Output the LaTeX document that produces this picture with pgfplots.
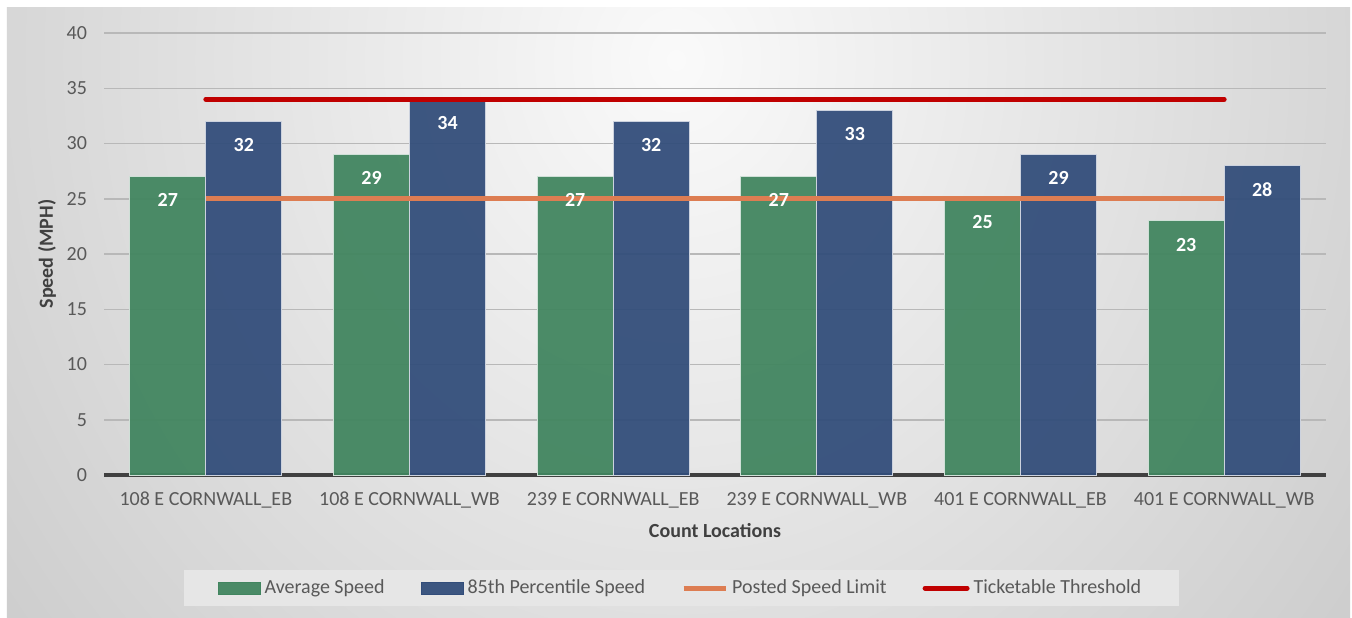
\documentclass[border=0pt]{standalone}
\usepackage{fontspec}
\setmainfont{Carlito}
\usepackage{pgfplots}
\usepackage{pgfplotstable}
\pgfplotsset{compat=1.18}

\pgfdeclarelayer{background}
\pgfsetlayers{background,main}

\definecolor{avg}{HTML}{41855F}
\definecolor{pct}{HTML}{324D7A}
\definecolor{posted}{HTML}{DD7D52}
\definecolor{ticket}{HTML}{C00000}
\definecolor{txt}{HTML}{595959}
\definecolor{ttl}{HTML}{404040}
\definecolor{gridc}{HTML}{B8B8B8}
\definecolor{bgin}{HTML}{FAFAFA}
\definecolor{bgout}{HTML}{A2A2A2}
\definecolor{legbg}{HTML}{E6E6E6}
\pgfdeclareradialshading{bgshade}{\pgfpoint{0bp}{0bp}}{color(0bp)=(bgin); color(50bp)=(bgout)}

\pgfplotsset{
  barlegend/.style={legend image code/.code={\fill[#1] (0pt,-3pt) rectangle (21pt,3pt);}},
  linelegend/.style={legend image code/.code={\draw[#1, line width=2.5pt] (0pt,0pt) -- (21pt,0pt);}},
  valuelabel/.style={nodes near coords,
    nodes near coords style={anchor=north, xshift=#1, yshift=-5pt, text=white,
      font=\bfseries\fontsize{10}{12}\selectfont}},
}

% speeds per count location (mph)
\pgfplotstableread{
idx avg pct
0 27 32
1 29 34
2 27 32
3 27 33
4 25 29
5 23 28
}\speeds

\begin{document}
\begin{tikzpicture}
\begin{axis}[
  at={(0,0)}, anchor=south west, scale only axis,
  width=611pt, height=221pt,
  xmin=-0.5, xmax=5.5, ymin=0, ymax=40,
  xtick={0,1,2,3,4,5},
  xticklabels={108 E CORNWALL\_EB, 108 E CORNWALL\_WB, 239 E CORNWALL\_EB,
               239 E CORNWALL\_WB, 401 E CORNWALL\_EB, 401 E CORNWALL\_WB},
  ytick={0,5,...,40},
  ymajorgrids, grid style={line width=0.75pt, color=gridc},
  axis x line*=bottom, axis y line*=left,
  x axis line style={line width=1.6pt, color=ttl},
  y axis line style={draw=none},
  major tick length=0pt, tick style={draw=none},
  /pgf/number format/assume math mode=true,
  ticklabel style={font=\fontsize{10}{12}\selectfont, text=txt},
  yticklabel style={xshift=-5pt},
  xticklabel style={yshift=-5pt},
  xlabel={Count Locations}, ylabel={Speed (MPH)},
  label style={font=\bfseries\fontsize{10}{12}\selectfont, text=ttl},
  xlabel style={at={(axis description cs:0.5,-0.1267)}, anchor=center},
  ylabel style={at={(axis description cs:-0.0466,0.5)}, anchor=center},
  legend style={at={(axis description cs:0.4725,-0.2557)}, anchor=center,
    legend columns=4, fill=legbg, draw=none, text=txt,
    font=\fontsize{10}{12}\selectfont,
    inner xsep=17pt, inner ysep=3pt,
    /tikz/every even column/.append style={column sep=16pt}},
]
\addplot[ybar, bar width=38pt, bar shift=-19pt, fill=avg, draw=white!75!avg,
  line width=0.5pt, fill opacity=0.94, barlegend=avg]
  table[x=idx, y=avg] {\speeds};
\addlegendentry{Average Speed}
\addplot[ybar, bar width=38pt, bar shift=19pt, fill=pct, draw=white!75!pct,
  line width=0.5pt, fill opacity=0.94, barlegend=pct]
  table[x=idx, y=pct] {\speeds};
\addlegendentry{85th Percentile Speed}
\addplot[posted, line width=2.5pt, mark=none, linelegend=posted]
  coordinates {(0,25) (1,25) (2,25) (3,25) (4,25) (5,25)};
\addlegendentry{Posted Speed Limit}
\addplot[ticket, line width=2.5pt, line cap=round, mark=none, linelegend=ticket]
  coordinates {(0,34) (1,34) (2,34) (3,34) (4,34) (5,34)};
\addlegendentry{Ticketable Threshold}
% value labels drawn last so they sit above the reference lines
\addplot[draw=none, mark=none, forget plot, valuelabel=-19pt]
  table[x=idx, y=avg] {\speeds};
\addplot[draw=none, mark=none, forget plot, valuelabel=19pt]
  table[x=idx, y=pct] {\speeds};
\coordinate (o) at (rel axis cs:0,0);
\end{axis}
% chart area: white frame with a soft grey radial backdrop, lightest near the top
\begin{pgfonlayer}{background}
\begin{scope}[shift={(o)}, x=1pt, y=1pt]
  \path[use as bounding box] (-52,-71) rectangle (624,237.5);
  \fill[white] (-52,-71) rectangle (624,237.5);
  \clip (-48.5,-71) rectangle (623,234);
  \fill[bgout] (-48.5,-71) rectangle (623,234);
  \shade[shading=bgshade] (-129,-252.5) rectangle (701,667.5);
\end{scope}
\end{pgfonlayer}
\end{tikzpicture}
\end{document}
